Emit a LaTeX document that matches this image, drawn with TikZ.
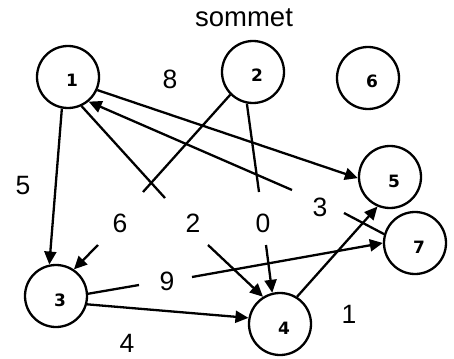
\documentclass[tikz,border=0pt]{standalone}
\usepackage{fontspec}
\setmainfont{Liberation Sans}
\newfontfamily\vertexfont{DejaVu Sans}
\usetikzlibrary{arrows.meta}

\begin{document}
\begin{tikzpicture}[x=1pt, y=-1pt, line width=2.3pt,
  vertex/.style={circle, draw, minimum size=62pt, inner sep=0pt,
    font=\vertexfont\bfseries\fontsize{17}{17}\selectfont,
    text height=20pt, text depth=0pt,
    execute at begin node=\hspace*{8pt}},
  weight/.style={anchor=base, inner sep=0pt,
    font=\fontsize{26.5}{26.5}\selectfont},
  arc/.style={-{Triangle[length=13pt,width=12pt]}}]

\useasboundingbox[fill=white] (0,0) rectangle (454,358);

% title
\node[anchor=base, inner sep=0pt, font=\fontsize{27.5}{27.5}\selectfont]
  (title) at (244,27) {sommet};

% vertices
\node[vertex] (n1) at (68,77)   {1};
\node[vertex] (n2) at (253,72)  {2};
\node[vertex] (n6) at (368,78)  {6};
\node[vertex] (n5) at (390,177) {5};
\node[vertex] (n7) at (415,243) {7};
\node[vertex] (n4) at (280,324) {4};
\node[vertex] (n3) at (56,296)  {3};

% break points where an arc is interrupted by its weight
\coordinate (a71) at (292,190);
\coordinate (b71) at (344,213);
\coordinate (a14) at (165,198);
\coordinate (b14) at (208,245);
\coordinate (a23) at (143,192);
\coordinate (b23) at (98,245);
\coordinate (a24) at (259,192);
\coordinate (b24) at (266,245);
\coordinate (a37) at (139,285);
\coordinate (b37) at (192,277);

% unbroken arcs
\draw[arc] (n1.259) -- (n3.102);
\draw[arc] (n1.-24) -- (n5.182);
\draw[arc] (n3.-15) -- (n4.169);
\draw[arc] (n4.58)  -- (n5.247);

% broken arcs
\draw (n7.164) -- (b71);
\draw[arc] (a71) -- (n1.-50);
\draw (n1.-65) -- (a14);
\draw[arc] (b14) -- (n4.122);
\draw (n2.-135) -- (a23);
\draw[arc] (b23) -- (n3.56);
\draw (n2.259) -- (a24);
\draw[arc] (b24) -- (n4.104);
\draw (n3.4) -- (a37);
\draw[arc] (b37) -- (n7.180);

% weights
\node[weight] (w8) at (170,89)  {8};
\node[weight] (w5) at (23,194)  {5};
\node[weight] (w6) at (120,232) {6};
\node[weight] (w2) at (193,232) {2};
\node[weight] (w0) at (263,232) {0};
\node[weight] (w3) at (320,216) {3};
\node[weight] (w9) at (167,290) {9};
\node[weight] (w4) at (127,352) {4};
\node[weight] (w1) at (349,323) {1};
\end{tikzpicture}
\end{document}
